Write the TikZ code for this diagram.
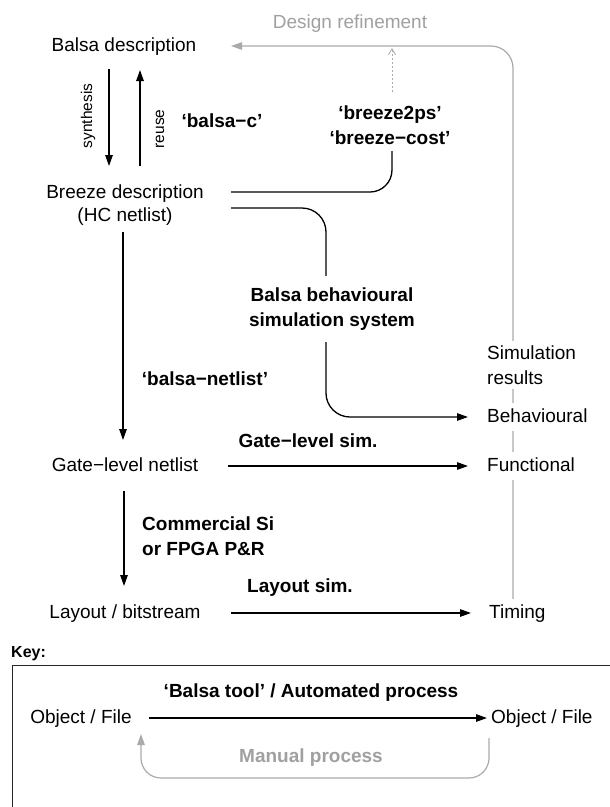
\documentclass[tikz,border=0pt]{standalone}
\usepackage{fontspec}
\setmainfont{Liberation Sans}
\usetikzlibrary{arrows.meta,calc}
\pgfdeclarelayer{bg}
\pgfsetlayers{bg,main}
\definecolor{lgray}{RGB}{170,170,170}
\definecolor{tgray}{RGB}{160,160,160}
\begin{document}
\begin{tikzpicture}[x=1pt,y=-1pt,
  base/.style={font=\fontsize{19}{23}\selectfont, inner sep=2pt},
  obj/.style={base, text height=14pt, text depth=4pt},
  lbl/.style={base, font=\fontsize{19}{25}\selectfont\bfseries, align=center},
  small/.style={base, font=\fontsize{15.5}{18}\selectfont, rotate=90},
  mask/.style={fill=white, inner ysep=5pt},
  arr/.style={draw=black, line width=1.3pt, -{Triangle[length=11pt,width=7.5pt]}},
  plainline/.style={draw=black, line width=1.3pt},
  grayarr/.style={draw=lgray, line width=1.2pt, -{Triangle[length=11pt,width=7.5pt]}},
  dotarr/.style={draw=lgray, line width=0.8pt, dash pattern=on 2pt off 2pt, -{Straight Barb[length=6pt,width=7pt]}},
  keybox/.style={draw=black!85, line width=1pt}
]
\useasboundingbox (0,0) rectangle (610,807);

% objects
\node[obj] (balsa) at (124,46) {Balsa description};
\node[base, align=center] (breeze) at (125,205) {Breeze description\\(HC netlist)};
\node[obj] (gate) at (125,466) {Gate−level netlist};
\node[obj] (layout) at (125,613) {Layout / bitstream};
\node[base, font=\fontsize{19}{25}\selectfont, align=left, anchor=west, mask] (simres) at (485,365) {Simulation\\results};
\node[obj, anchor=west, mask] (behav) at (485,417) {Behavioural};
\node[obj, anchor=west, mask] (func) at (485,466) {Functional};
\node[obj, anchor=west, mask] (timing) at (487,613) {Timing};

% labels
\node[base, text=tgray] (dref) at (350,24) {Design refinement};
\node[small] (synl) at (88,116) {synthesis};
\node[small] (reul) at (160,129) {reuse};
\node[lbl] (balsac) at (222,121) {‘balsa−c’};
\node[lbl] (bz) at (390,125) {‘breeze2ps’\\‘breeze−cost’};
\node[lbl, fill=white, inner ysep=12pt] (bbs) at (332,309) {Balsa behavioural\\simulation system};
\node[lbl] (bnet) at (205,379) {‘balsa−netlist’};
\node[lbl] (gsim) at (308,441) {Gate−level sim.};
\node[lbl, align=left, anchor=west] (comm) at (140,536) {Commercial Si\\or FPGA P\&R};
\node[lbl] (lsim) at (300,588) {Layout sim.};

% connectors
\draw[arr] ($(balsa)+(-15,23)$) -- ($(breeze)+(-16,-39)$);
\draw[arr] ($(breeze)+(15,-39)$) -- ($(balsa)+(16,24)$);
\draw[plainline, rounded corners=22pt] ($(bz)+(2,26)$) |- ($(breeze)+(106,-13)$);
\draw[dotarr] ($(bz)+(2,-33)$) -- ($(bz)+(2,-77)$);
\begin{pgfonlayer}{bg}
\draw[grayarr, rounded corners=22pt] ($(timing.west)+(26,-10)$) |- ($(balsa)+(107,0)$);
\draw[arr, rounded corners=24pt] ($(breeze)+(106,3)$) -| ($(bbs)+(-6,0)$) |- ($(behav.west)+(-17,0)$);
\end{pgfonlayer}
\draw[arr] ($(breeze)+(-2,27)$) -- ($(gate)+(-2,-26)$);
\draw[arr] ($(gate)+(103,0)$) -- ($(func.west)+(-17,0)$);
\draw[arr] ($(gate)+(-1,25)$) -- ($(layout)+(-1,-27)$);
\draw[arr] ($(layout)+(106,0)$) -- ($(timing.west)+(-16,0)$);

% key
\node[base, font=\fontsize{16}{18}\selectfont\bfseries, anchor=west] (key) at (9,654) {Key:};
\draw[keybox] (12,665) rectangle (640,840);
\node[obj] (objl) at (81,718) {Object / File};
\node[obj, anchor=west] (objr) at (489,718) {Object / File};
\node[lbl] (auto) at (311,693) {‘Balsa tool’ / Automated process};
\node[lbl, text=tgray] (manual) at (311,758) {Manual process};
\draw[arr] ($(objl)+(68,0)$) -- ($(objr.west)+(-2,0)$);
\draw[grayarr, rounded corners=20pt] ($(objr.west)+(0,20)$) |- ($(objl)+(60,60)$) -- ($(objl)+(60,16)$);
\end{tikzpicture}
\end{document}
